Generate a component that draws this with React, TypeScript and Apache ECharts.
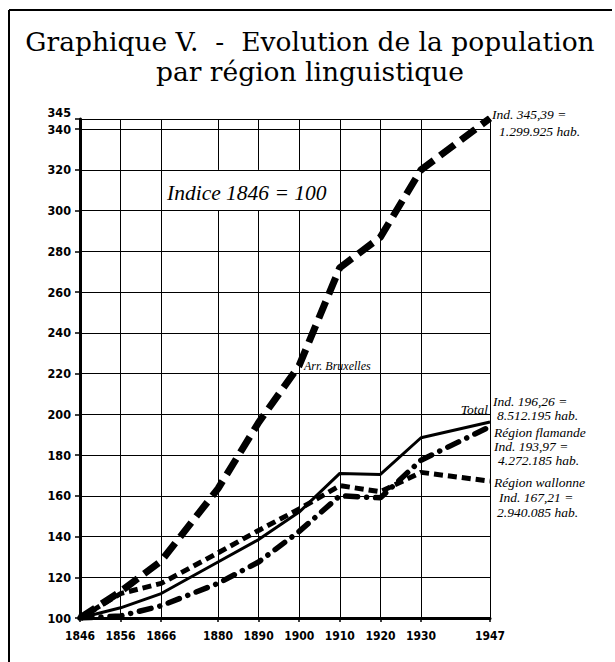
import React, { useEffect, useRef } from "react";
import * as echarts from "echarts";

// ---- Data ----
const years = [1846, 1856, 1866, 1880, 1890, 1900, 1910, 1920, 1930, 1947];
const bruxelles = [100, 113, 128, 163.5, 196, 224, 272, 287, 320, 345.39];
const total = [100, 105, 112, 127.5, 138.5, 152, 171, 170.5, 188.5, 196.26];
const flamande = [100, 101, 106, 117, 127.5, 142.5, 160, 159, 177.5, 193.97];
const wallonne = [100, 112, 117, 132, 143, 153.5, 165, 162, 171.5, 167.21];

const yMin = 100;
const yMax = 345;
const yStep = 20;

// cells left blank behind the "Indice" note
const noteYears = [1880, 1890, 1900];
const noteRange = [300, 320];

const titleLines = ["Graphique V.  -  Evolution de la population", "par région linguistique"];
const noteText = "Indice 1846 = 100";
const bruxellesLabel = "Arr. Bruxelles";
const totalLabel = "Total";
const bruxellesNote = ["Ind. 345,39 =", "1.299.925 hab."];
const rightNotes = [
  "Ind. 196,26 =",
  "8.512.195 hab.",
  "Région flamande",
  "Ind. 193,97 =",
  "4.272.185 hab.",
  "Région wallonne",
  "Ind. 167,21 =",
  "2.940.085 hab.",
];

const toPairs = (vals: number[]) => years.map((y, i) => [y, vals[i]]);

export default function App() {
  const ref = useRef<HTMLDivElement>(null);

  useEffect(() => {
    if (!ref.current) return;
    const chart = echarts.init(ref.current, null, { renderer: "svg" });

    const axisFont = "'DejaVu Sans Condensed', 'Liberation Sans Narrow', 'DejaVu Sans', sans-serif";
    const serifItalic = "'Liberation Serif', 'DejaVu Serif', serif";

    // vertical grid segments
    const vLines: any[] = [];
    years.slice(1).forEach((yr) => {
      if (noteYears.includes(yr)) {
        vLines.push([{ coord: [yr, yMin] }, { coord: [yr, noteRange[0]] }]);
        vLines.push([{ coord: [yr, noteRange[1]] }, { coord: [yr, yMax] }]);
      } else {
        vLines.push([{ coord: [yr, yMin] }, { coord: [yr, yMax] }]);
      }
    });

    const rightNoteYs = [401, 415, 432, 446, 460, 482, 497, 512];
    const rightNoteXs = [493, 497, 494, 494, 498, 494, 499, 497];

    const graphic: any[] = [
      // frame
      { type: "line", shape: { x1: 9, y1: 10, x2: 612, y2: 10 }, style: { stroke: "#000", lineWidth: 2 } },
      { type: "line", shape: { x1: 9, y1: 10, x2: 9, y2: 662 }, style: { stroke: "#000", lineWidth: 2 } },
      // title
      {
        type: "text",
        style: {
          text: titleLines[0], x: 310, y: 41, align: "center", verticalAlign: "middle",
          font: "26.5px 'DejaVu Serif', serif", fill: "#000",
        },
      },
      {
        type: "text",
        style: {
          text: titleLines[1], x: 310, y: 71, align: "center", verticalAlign: "middle",
          font: "26.5px 'DejaVu Serif', serif", fill: "#000",
        },
      },
      // Indice note
      {
        type: "text",
        style: {
          text: noteText, x: 167, y: 193, align: "left", verticalAlign: "middle",
          font: `italic 21.5px ${serifItalic}`, fill: "#000",
        },
      },
      {
        type: "text",
        style: {
          text: bruxellesLabel, x: 304, y: 366, align: "left", verticalAlign: "middle",
          font: `italic 12px ${serifItalic}`, fill: "#000",
        },
      },
      {
        type: "text",
        style: {
          text: totalLabel, x: 488, y: 409, align: "right", verticalAlign: "middle",
          font: `italic 13.5px ${serifItalic}`, fill: "#000",
        },
      },
      {
        type: "text",
        style: {
          text: bruxellesNote[0], x: 492, y: 114, align: "left", verticalAlign: "middle",
          font: `italic 13.5px ${serifItalic}`, fill: "#000",
        },
      },
      {
        type: "text",
        style: {
          text: bruxellesNote[1], x: 499, y: 131, align: "left", verticalAlign: "middle",
          font: `italic 13.5px ${serifItalic}`, fill: "#000",
        },
      },
      ...rightNotes.map((t, i) => ({
        type: "text",
        style: {
          text: t, x: rightNoteXs[i], y: rightNoteYs[i], align: "left", verticalAlign: "middle",
          font: `italic 13.5px ${serifItalic}`, fill: "#000",
        },
      })),
    ];

    chart.setOption({
      animation: false,
      backgroundColor: "#fff",
      grid: { left: 80, right: 125, top: 119, bottom: 44, containLabel: false },
      xAxis: {
        type: "value",
        min: years[0],
        max: years[years.length - 1],
        axisLine: { show: true, onZero: false, lineStyle: { color: "#000", width: 3 } },
        axisTick: { show: true, customValues: years, length: 4, lineStyle: { color: "#000", width: 1.5 } },
        axisLabel: {
          customValues: years,
          color: "#000",
          fontFamily: axisFont,
          fontWeight: "bold",
          fontSize: 12,
          margin: 12,
          formatter: (v: number) => String(v),
        },
        splitLine: { show: false },
      },
      yAxis: {
        type: "value",
        min: yMin,
        max: yMax,
        interval: yStep,
        axisLine: { show: true, onZero: false, lineStyle: { color: "#000", width: 3 } },
        axisTick: { show: true, length: 5, lineStyle: { color: "#000", width: 1.5 } },
        axisLabel: {
          showMaxLabel: true,
          showMinLabel: true,
          color: "#000",
          fontFamily: axisFont,
          fontWeight: "bold",
          fontSize: 12.5,
          margin: 9,
          formatter: (v: number) => (v === yMax ? `{top|${v}}` : String(v)),
          rich: { top: { padding: [0, 0, 14, 0], fontFamily: axisFont, fontWeight: "bold", fontSize: 12.5, color: "#000" } },
        },
        splitLine: { show: true, lineStyle: { color: "#000", width: 1 } },
      },
      series: [
        {
          name: "Grille",
          type: "line",
          data: [],
          silent: true,
          markLine: {
            silent: true,
            symbol: ["none", "none"],
            label: { show: false },
            lineStyle: { color: "#000", width: 1, type: "solid" },
            data: vLines,
          },
        },
        {
          name: "Arr. Bruxelles",
          type: "line",
          data: toPairs(bruxelles),
          symbol: "none",
          lineStyle: { color: "#000", width: 7, type: [18, 8] },
          z: 5,
        },
        {
          name: "Total",
          type: "line",
          data: toPairs(total),
          symbol: "none",
          lineStyle: { color: "#000", width: 3, type: "solid" },
          z: 5,
        },
        {
          name: "Région flamande",
          type: "line",
          data: toPairs(flamande),
          symbol: "none",
          lineStyle: { color: "#000", width: 5.5, type: [12, 9, 0.01, 9], cap: "round" },
          z: 5,
        },
        {
          name: "Région wallonne",
          type: "line",
          data: toPairs(wallonne),
          symbol: "none",
          lineStyle: { color: "#000", width: 5, type: [9, 5] },
          z: 5,
        },
      ],
      graphic,
    });

    return () => chart.dispose();
  }, []);

  return (
    <div
      ref={ref}
      style={{ position: "fixed", left: 0, top: 0, width: 615, height: 662, background: "#fff" }}
    />
  );
}
